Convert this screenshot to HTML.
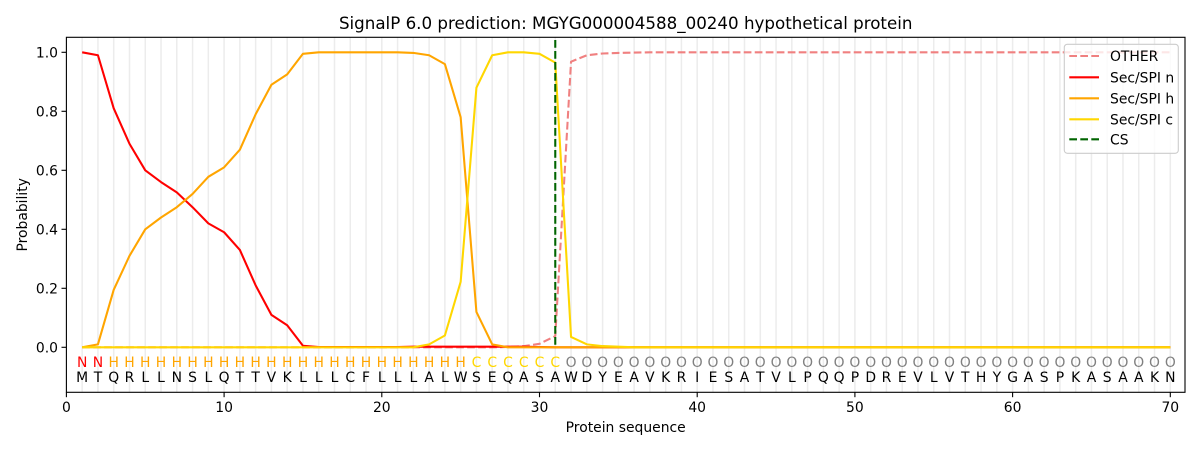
<!DOCTYPE html>
<html><head><meta charset="utf-8"><style>
html,body{margin:0;padding:0;background:#fff;}
svg{display:block;font-family:"DejaVu Sans","Liberation Sans",sans-serif;}
</style></head><body>
<svg width="1200" height="450" viewBox="0 0 1200 450" xmlns="http://www.w3.org/2000/svg">
<rect width="1200" height="450" fill="#fff"/>
<text x="625.7" y="29" font-size="16.7" text-anchor="middle" fill="#000">SignalP 6.0 prediction: MGYG000004588_00240 hypothetical protein</text>
<g stroke="#ececec" stroke-width="1.5">
<line x1="82.17" y1="37.3" x2="82.17" y2="392.3"/><line x1="97.94" y1="37.3" x2="97.94" y2="392.3"/><line x1="113.71" y1="37.3" x2="113.71" y2="392.3"/><line x1="129.48" y1="37.3" x2="129.48" y2="392.3"/><line x1="145.25" y1="37.3" x2="145.25" y2="392.3"/><line x1="161.02" y1="37.3" x2="161.02" y2="392.3"/><line x1="176.79" y1="37.3" x2="176.79" y2="392.3"/><line x1="192.56" y1="37.3" x2="192.56" y2="392.3"/><line x1="208.33" y1="37.3" x2="208.33" y2="392.3"/><line x1="224.1" y1="37.3" x2="224.1" y2="392.3"/>
<line x1="239.87" y1="37.3" x2="239.87" y2="392.3"/><line x1="255.64" y1="37.3" x2="255.64" y2="392.3"/><line x1="271.41" y1="37.3" x2="271.41" y2="392.3"/><line x1="287.18" y1="37.3" x2="287.18" y2="392.3"/><line x1="302.95" y1="37.3" x2="302.95" y2="392.3"/><line x1="318.72" y1="37.3" x2="318.72" y2="392.3"/><line x1="334.49" y1="37.3" x2="334.49" y2="392.3"/><line x1="350.26" y1="37.3" x2="350.26" y2="392.3"/><line x1="366.03" y1="37.3" x2="366.03" y2="392.3"/><line x1="381.8" y1="37.3" x2="381.8" y2="392.3"/>
<line x1="397.57" y1="37.3" x2="397.57" y2="392.3"/><line x1="413.34" y1="37.3" x2="413.34" y2="392.3"/><line x1="429.11" y1="37.3" x2="429.11" y2="392.3"/><line x1="444.88" y1="37.3" x2="444.88" y2="392.3"/><line x1="460.65" y1="37.3" x2="460.65" y2="392.3"/><line x1="476.42" y1="37.3" x2="476.42" y2="392.3"/><line x1="492.19" y1="37.3" x2="492.19" y2="392.3"/><line x1="507.96" y1="37.3" x2="507.96" y2="392.3"/><line x1="523.73" y1="37.3" x2="523.73" y2="392.3"/><line x1="539.5" y1="37.3" x2="539.5" y2="392.3"/>
<line x1="555.27" y1="37.3" x2="555.27" y2="392.3"/><line x1="571.04" y1="37.3" x2="571.04" y2="392.3"/><line x1="586.81" y1="37.3" x2="586.81" y2="392.3"/><line x1="602.58" y1="37.3" x2="602.58" y2="392.3"/><line x1="618.35" y1="37.3" x2="618.35" y2="392.3"/><line x1="634.12" y1="37.3" x2="634.12" y2="392.3"/><line x1="649.89" y1="37.3" x2="649.89" y2="392.3"/><line x1="665.66" y1="37.3" x2="665.66" y2="392.3"/><line x1="681.43" y1="37.3" x2="681.43" y2="392.3"/><line x1="697.2" y1="37.3" x2="697.2" y2="392.3"/>
<line x1="712.97" y1="37.3" x2="712.97" y2="392.3"/><line x1="728.74" y1="37.3" x2="728.74" y2="392.3"/><line x1="744.51" y1="37.3" x2="744.51" y2="392.3"/><line x1="760.28" y1="37.3" x2="760.28" y2="392.3"/><line x1="776.05" y1="37.3" x2="776.05" y2="392.3"/><line x1="791.82" y1="37.3" x2="791.82" y2="392.3"/><line x1="807.59" y1="37.3" x2="807.59" y2="392.3"/><line x1="823.36" y1="37.3" x2="823.36" y2="392.3"/><line x1="839.13" y1="37.3" x2="839.13" y2="392.3"/><line x1="854.9" y1="37.3" x2="854.9" y2="392.3"/>
<line x1="870.67" y1="37.3" x2="870.67" y2="392.3"/><line x1="886.44" y1="37.3" x2="886.44" y2="392.3"/><line x1="902.21" y1="37.3" x2="902.21" y2="392.3"/><line x1="917.98" y1="37.3" x2="917.98" y2="392.3"/><line x1="933.75" y1="37.3" x2="933.75" y2="392.3"/><line x1="949.52" y1="37.3" x2="949.52" y2="392.3"/><line x1="965.29" y1="37.3" x2="965.29" y2="392.3"/><line x1="981.06" y1="37.3" x2="981.06" y2="392.3"/><line x1="996.83" y1="37.3" x2="996.83" y2="392.3"/><line x1="1012.6" y1="37.3" x2="1012.6" y2="392.3"/>
<line x1="1028.37" y1="37.3" x2="1028.37" y2="392.3"/><line x1="1044.14" y1="37.3" x2="1044.14" y2="392.3"/><line x1="1059.91" y1="37.3" x2="1059.91" y2="392.3"/><line x1="1075.68" y1="37.3" x2="1075.68" y2="392.3"/><line x1="1091.45" y1="37.3" x2="1091.45" y2="392.3"/><line x1="1107.22" y1="37.3" x2="1107.22" y2="392.3"/><line x1="1122.99" y1="37.3" x2="1122.99" y2="392.3"/><line x1="1138.76" y1="37.3" x2="1138.76" y2="392.3"/><line x1="1154.53" y1="37.3" x2="1154.53" y2="392.3"/><line x1="1170.3" y1="37.3" x2="1170.3" y2="392.3"/>
</g>
<g fill="none" stroke-width="2.08" stroke-linejoin="round">
<polyline stroke="#f08080" stroke-dasharray="7.7,3.3" points="82.17,347.3 492.19,347.3 507.96,347.0 523.73,346.1 539.5,343.8 555.27,336.1 571.04,61.7 586.81,55.25 602.58,53.5 618.35,52.9 634.12,52.6 649.89,52.3 1170.3,52.3"/>
<polyline stroke="#ff0000" points="82.17,52.3 97.94,55.25 113.71,108.35 129.48,143.75 145.25,170.3 161.02,182.1 176.79,192.4 192.56,207.2 208.33,223.4 224.1,232.25 239.87,249.95 255.64,285.35 271.41,314.85 287.18,325.2 302.95,345.8 318.72,347.0 397.57,347.0 413.34,346.7 523.73,346.7 539.5,347.0 555.27,347.3 1170.3,347.3"/>
<polyline stroke="#ffa500" points="82.17,347.3 97.94,344.35 113.71,289.8 129.48,255.85 145.25,229.3 161.02,217.5 176.79,207.2 192.56,193.9 208.33,176.8 224.1,167.35 239.87,149.65 255.64,114.25 271.41,84.75 287.18,74.4 302.95,53.8 318.72,52.3 397.57,52.3 413.34,52.9 429.11,55.25 444.88,64.1 460.65,117.2 476.42,311.9 492.19,344.35 507.96,347.3 1170.3,347.3"/>
<polyline stroke="#ffd700" points="82.17,347.3 413.34,347.3 429.11,344.35 444.88,335.5 460.65,281.8 476.42,87.7 492.19,55.25 507.96,52.3 523.73,52.3 539.5,53.8 555.27,62.6 571.04,336.98 586.81,344.35 602.58,346.1 618.35,346.7 634.12,347.3 1170.3,347.3"/>
</g>
<line x1="555.27" y1="40" x2="555.27" y2="347.3" stroke="#006400" stroke-width="2.08" stroke-dasharray="7.7,3.3"/>
<g font-size="13.9" text-anchor="middle">
<g fill="#ff0000"><text x="82.17" y="367">N</text><text x="97.94" y="367">N</text></g>
<g fill="#ffa500"><text x="113.71" y="367">H</text><text x="129.48" y="367">H</text><text x="145.25" y="367">H</text><text x="161.02" y="367">H</text><text x="176.79" y="367">H</text><text x="192.56" y="367">H</text><text x="208.33" y="367">H</text><text x="224.1" y="367">H</text><text x="239.87" y="367">H</text><text x="255.64" y="367">H</text><text x="271.41" y="367">H</text><text x="287.18" y="367">H</text><text x="302.95" y="367">H</text><text x="318.72" y="367">H</text><text x="334.49" y="367">H</text><text x="350.26" y="367">H</text><text x="366.03" y="367">H</text><text x="381.8" y="367">H</text><text x="397.57" y="367">H</text><text x="413.34" y="367">H</text><text x="429.11" y="367">H</text><text x="444.88" y="367">H</text><text x="460.65" y="367">H</text></g>
<g fill="#ffd700"><text x="476.42" y="367">C</text><text x="492.19" y="367">C</text><text x="507.96" y="367">C</text><text x="523.73" y="367">C</text><text x="539.5" y="367">C</text><text x="555.27" y="367">C</text></g>
<g fill="#808080"><text x="571.04" y="367">O</text><text x="586.81" y="367">O</text><text x="602.58" y="367">O</text><text x="618.35" y="367">O</text><text x="634.12" y="367">O</text><text x="649.89" y="367">O</text><text x="665.66" y="367">O</text><text x="681.43" y="367">O</text><text x="697.2" y="367">O</text><text x="712.97" y="367">O</text><text x="728.74" y="367">O</text><text x="744.51" y="367">O</text><text x="760.28" y="367">O</text><text x="776.05" y="367">O</text><text x="791.82" y="367">O</text><text x="807.59" y="367">O</text><text x="823.36" y="367">O</text><text x="839.13" y="367">O</text><text x="854.9" y="367">O</text><text x="870.67" y="367">O</text><text x="886.44" y="367">O</text><text x="902.21" y="367">O</text><text x="917.98" y="367">O</text><text x="933.75" y="367">O</text><text x="949.52" y="367">O</text><text x="965.29" y="367">O</text><text x="981.06" y="367">O</text><text x="996.83" y="367">O</text><text x="1012.6" y="367">O</text><text x="1028.37" y="367">O</text><text x="1044.14" y="367">O</text><text x="1059.91" y="367">O</text><text x="1075.68" y="367">O</text><text x="1091.45" y="367">O</text><text x="1107.22" y="367">O</text><text x="1122.99" y="367">O</text><text x="1138.76" y="367">O</text><text x="1154.53" y="367">O</text><text x="1170.3" y="367">O</text></g>
<g fill="#000"><text x="82.17" y="382">M</text><text x="97.94" y="382">T</text><text x="113.71" y="382">Q</text><text x="129.48" y="382">R</text><text x="145.25" y="382">L</text><text x="161.02" y="382">L</text><text x="176.79" y="382">N</text><text x="192.56" y="382">S</text><text x="208.33" y="382">L</text><text x="224.1" y="382">Q</text><text x="239.87" y="382">T</text><text x="255.64" y="382">T</text><text x="271.41" y="382">V</text><text x="287.18" y="382">K</text><text x="302.95" y="382">L</text><text x="318.72" y="382">L</text><text x="334.49" y="382">L</text><text x="350.26" y="382">C</text><text x="366.03" y="382">F</text><text x="381.8" y="382">L</text><text x="397.57" y="382">L</text><text x="413.34" y="382">L</text><text x="429.11" y="382">A</text><text x="444.88" y="382">L</text><text x="460.65" y="382">W</text><text x="476.42" y="382">S</text><text x="492.19" y="382">E</text><text x="507.96" y="382">Q</text><text x="523.73" y="382">A</text><text x="539.5" y="382">S</text><text x="555.27" y="382">A</text><text x="571.04" y="382">W</text><text x="586.81" y="382">D</text><text x="602.58" y="382">Y</text><text x="618.35" y="382">E</text><text x="634.12" y="382">A</text><text x="649.89" y="382">V</text><text x="665.66" y="382">K</text><text x="681.43" y="382">R</text><text x="697.2" y="382">I</text><text x="712.97" y="382">E</text><text x="728.74" y="382">S</text><text x="744.51" y="382">A</text><text x="760.28" y="382">T</text><text x="776.05" y="382">V</text><text x="791.82" y="382">L</text><text x="807.59" y="382">P</text><text x="823.36" y="382">Q</text><text x="839.13" y="382">Q</text><text x="854.9" y="382">P</text><text x="870.67" y="382">D</text><text x="886.44" y="382">R</text><text x="902.21" y="382">E</text><text x="917.98" y="382">V</text><text x="933.75" y="382">L</text><text x="949.52" y="382">V</text><text x="965.29" y="382">T</text><text x="981.06" y="382">H</text><text x="996.83" y="382">Y</text><text x="1012.6" y="382">G</text><text x="1028.37" y="382">A</text><text x="1044.14" y="382">S</text><text x="1059.91" y="382">P</text><text x="1075.68" y="382">K</text><text x="1091.45" y="382">A</text><text x="1107.22" y="382">S</text><text x="1122.99" y="382">A</text><text x="1138.76" y="382">A</text><text x="1154.53" y="382">K</text><text x="1170.3" y="382">N</text></g>
</g>
<rect x="66.4" y="37.3" width="1118.6" height="355" fill="none" stroke="#000" stroke-width="1.1"/>
<g stroke="#000" stroke-width="1.1">
<line x1="66.4" y1="392.3" x2="66.4" y2="397.2"/><line x1="224.1" y1="392.3" x2="224.1" y2="397.2"/><line x1="381.8" y1="392.3" x2="381.8" y2="397.2"/><line x1="539.5" y1="392.3" x2="539.5" y2="397.2"/><line x1="697.2" y1="392.3" x2="697.2" y2="397.2"/><line x1="854.9" y1="392.3" x2="854.9" y2="397.2"/><line x1="1012.6" y1="392.3" x2="1012.6" y2="397.2"/><line x1="1170.3" y1="392.3" x2="1170.3" y2="397.2"/>
<line x1="61.5" y1="347.3" x2="66.4" y2="347.3"/><line x1="61.5" y1="288.3" x2="66.4" y2="288.3"/><line x1="61.5" y1="229.3" x2="66.4" y2="229.3"/><line x1="61.5" y1="170.3" x2="66.4" y2="170.3"/><line x1="61.5" y1="111.3" x2="66.4" y2="111.3"/><line x1="61.5" y1="52.3" x2="66.4" y2="52.3"/>
</g>
<g font-size="13.9" fill="#000" text-anchor="middle">
<text x="66.4" y="412">0</text><text x="224.1" y="412">10</text><text x="381.8" y="412">20</text><text x="539.5" y="412">30</text><text x="697.2" y="412">40</text><text x="854.9" y="412">50</text><text x="1012.6" y="412">60</text><text x="1170.3" y="412">70</text>
</g>
<g font-size="13.9" fill="#000" text-anchor="end">
<text x="58" y="352.3">0.0</text><text x="58" y="293.3">0.2</text><text x="58" y="234.3">0.4</text><text x="58" y="175.3">0.6</text><text x="58" y="116.3">0.8</text><text x="58" y="57.3">1.0</text>
</g>
<text x="625.7" y="432" font-size="13.9" text-anchor="middle" fill="#000">Protein sequence</text>
<text transform="translate(27,214.8) rotate(-90)" font-size="13.9" text-anchor="middle" fill="#000">Probability</text>
<rect x="1064.3" y="44.3" width="114" height="109" rx="3" fill="#fff" fill-opacity="0.8" stroke="#cccccc" stroke-width="1.1"/>
<g stroke-width="2.08">
<line x1="1069.3" y1="56" x2="1099" y2="56" stroke="#f08080" stroke-dasharray="7.7,3.3"/>
<line x1="1069.3" y1="77.3" x2="1099" y2="77.3" stroke="#ff0000"/>
<line x1="1069.3" y1="98.3" x2="1099" y2="98.3" stroke="#ffa500"/>
<line x1="1069.3" y1="119.3" x2="1099" y2="119.3" stroke="#ffd700"/>
<line x1="1069.3" y1="139.3" x2="1099" y2="139.3" stroke="#006400" stroke-dasharray="7.7,3.3"/>
</g>
<g font-size="13.9" fill="#000">
<text x="1110" y="61">OTHER</text><text x="1110" y="82.3">Sec/SPI n</text><text x="1110" y="103.3">Sec/SPI h</text><text x="1110" y="124.3">Sec/SPI c</text><text x="1110" y="144.3">CS</text>
</g>
</svg>
</body></html>
